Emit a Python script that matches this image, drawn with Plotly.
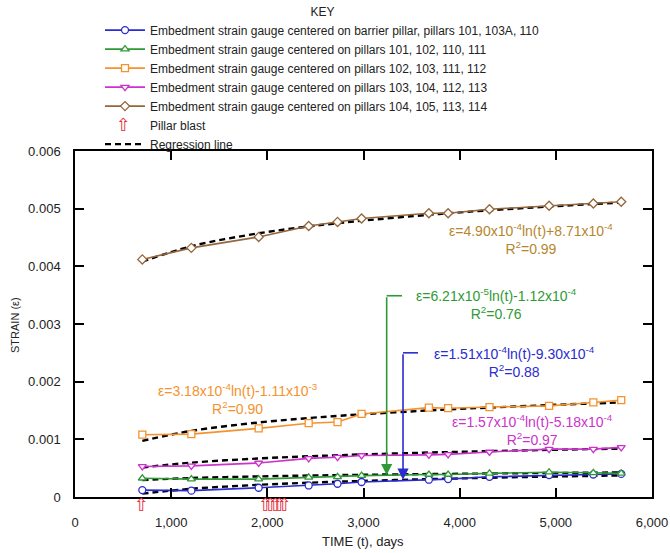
import plotly.graph_objects as go

# ---------------- data ----------------
t_days = [700, 1210, 1910, 2430, 2730, 2980, 3680, 3880, 4310, 4930, 5390, 5680]

strain_barrier = [0.00012, 0.00011, 0.00016, 0.00020, 0.00023, 0.00026, 0.00030, 0.00031, 0.00035, 0.00038, 0.00039, 0.00040]
strain_101_102 = [0.000325, 0.00031, 0.00031, 0.00034, 0.00035, 0.00037, 0.00039, 0.00039, 0.00041, 0.00043, 0.00042, 0.00041]
strain_102_103 = [0.00108, 0.00109, 0.00119, 0.00128, 0.00130, 0.00144, 0.00155, 0.00154, 0.00156, 0.00158, 0.00164, 0.00168]
strain_103_104 = [0.00053, 0.00054, 0.00059, 0.00067, 0.00069, 0.00072, 0.00073, 0.00074, 0.00078, 0.00083, 0.00083, 0.00086]
strain_104_105 = [0.00412, 0.00432, 0.00451, 0.00470, 0.00477, 0.00483, 0.00492, 0.00492, 0.00499, 0.00505, 0.00509, 0.00512]

# regression lines read at the same times
reg_barrier = [0.000059, 0.000142, 0.000211, 0.000247, 0.000265, 0.000278, 0.000310, 0.000318, 0.000334, 0.000354, 0.000367, 0.000375]
reg_101_102 = [0.000295, 0.000329, 0.000357, 0.000372, 0.000379, 0.000385, 0.000398, 0.000401, 0.000408, 0.000416, 0.000422, 0.000425]
reg_102_103 = [0.000973, 0.001147, 0.001292, 0.001369, 0.001406, 0.001434, 0.001501, 0.001518, 0.001551, 0.001594, 0.001622, 0.001639]
reg_103_104 = [0.000511, 0.000596, 0.000668, 0.000706, 0.000724, 0.000738, 0.000771, 0.000779, 0.000796, 0.000817, 0.000831, 0.000839]
reg_104_105 = [0.004081, 0.004349, 0.004573, 0.004691, 0.004748, 0.004791, 0.004894, 0.004920, 0.004972, 0.005037, 0.005081, 0.005107]

blast_days = [690, 1980, 2030, 2080, 2130, 2180]

series_names = [
    "Embedment strain gauge centered on barrier pillar, pillars 101, 103A, 110",
    "Embedment strain gauge centered on pillars 101, 102, 110, 111",
    "Embedment strain gauge centered on pillars 102, 103, 111, 112",
    "Embedment strain gauge centered on pillars 103, 104, 112, 113",
    "Embedment strain gauge centered on pillars 104, 105, 113, 114",
]

# ---------------- styles ----------------
FONT = "Liberation Sans, Arial, sans-serif"
c_blue = "#2b2bd0"
c_green = "#2f9a35"
c_orange = "#f5922e"
c_magenta = "#cc33cc"
c_brown = "#95663a"
c_brown_txt = "#b5862e"
c_red = "#e8303a"

W, H = 670, 553
L, R, T, B = 75, 18, 151, 56
PW, PH = W - L - R, H - T - B


def px_to_paper(px, py):
    return (px - L) / PW, (H - B - py) / PH


series = [
    (strain_barrier, c_blue, "circle"),
    (strain_101_102, c_green, "triangle-up"),
    (strain_102_103, c_orange, "square"),
    (strain_103_104, c_magenta, "triangle-down"),
    (strain_104_105, c_brown, "diamond"),
]
regs = [reg_barrier, reg_101_102, reg_102_103, reg_103_104, reg_104_105]

fig = go.Figure()

for r in regs:
    fig.add_trace(go.Scatter(
        x=t_days, y=r, mode="lines", line=dict(color="black", width=2.4, dash="6px,4px", shape="spline"),
        name="Regression line", showlegend=False, hoverinfo="skip"))

for (vals, col, sym), nm in zip(series, series_names):
    fig.add_trace(go.Scatter(
        x=t_days, y=vals, mode="lines+markers", name=nm,
        line=dict(color=col, width=1.6),
        marker=dict(symbol=sym, size=7, color="white", line=dict(color=col, width=1.3)),
    ))

# legend entry for pillar blast (symbol drawn by annotation)
fig.add_trace(go.Scatter(
    x=[None], y=[None], mode="markers", name="Pillar blast",
    marker=dict(size=1, color="rgba(0,0,0,0)"),
))
fig.add_trace(go.Scatter(
    x=[None], y=[None], mode="lines", name="Regression line",
    line=dict(color="black", width=2.4, dash="6px,4px"),
))

# pillar blast arrows below the time axis
for d in blast_days:
    fig.add_annotation(x=d, y=0, xref="x", yref="y", text="⇧", showarrow=False, yshift=-7,
                       font=dict(family="DejaVu Sans", size=18, color=c_red),
                       xanchor="center", yanchor="middle")

# ---------------- annotations ----------------
def eq(text_html, x, y, color):
    fig.add_annotation(x=x, y=y, xref="x", yref="y", text=text_html, showarrow=False,
                       font=dict(family=FONT, size=14, color=color), align="center")

eq("ε=4.90x10<sup>-4</sup>ln(t)+8.71x10<sup>-4</sup><br>R<sup>2</sup>=0.99", 4742, 0.00448, c_brown_txt)
eq("ε=6.21x10<sup>-5</sup>ln(t)-1.12x10<sup>-4</sup><br>R<sup>2</sup>=0.76", 4378, 0.00334, c_green)
eq("ε=1.51x10<sup>-4</sup>ln(t)-9.30x10<sup>-4</sup><br>R<sup>2</sup>=0.88", 4575, 0.00234, c_blue)
eq("ε=3.18x10<sup>-4</sup>ln(t)-1.11x10<sup>-3</sup><br>R<sup>2</sup>=0.90", 1695, 0.00170, c_orange)
eq("ε=1.57x10<sup>-4</sup>ln(t)-5.18x10<sup>-4</sup><br>R<sup>2</sup>=0.97", 4762, 0.00116, c_magenta)

# callout leaders
fig.add_shape(type="line", xref="x", yref="y", x0=3241, x1=3400, y0=0.00349, y1=0.00349,
              line=dict(color=c_green, width=1.6))
fig.add_annotation(x=3241, y=0.00038, ax=3241, ay=0.00349, xref="x", yref="y", axref="x", ayref="y",
                   text="", showarrow=True, arrowhead=2, arrowsize=1.4, arrowwidth=1.6, arrowcolor=c_green)
fig.add_shape(type="line", xref="x", yref="y", x0=3411, x1=3567, y0=0.00250, y1=0.00250,
              line=dict(color=c_blue, width=1.6))
fig.add_annotation(x=3411, y=0.00030, ax=3411, ay=0.00250, xref="x", yref="y", axref="x", ayref="y",
                   text="", showarrow=True, arrowhead=2, arrowsize=1.4, arrowwidth=1.6, arrowcolor=c_blue)

# axis titles
tx, ty = px_to_paper(363, 541)
fig.add_annotation(x=tx, y=ty, xref="paper", yref="paper", text="TIME (t), days", showarrow=False,
                   font=dict(family=FONT, size=13, color="#222"), xanchor="center", yanchor="middle")
sx, sy = px_to_paper(15, 325)
fig.add_annotation(x=sx, y=sy, xref="paper", yref="paper", text="STRAIN (ε)", showarrow=False, textangle=-90,
                   font=dict(family=FONT, size=11, color="#222"), xanchor="center", yanchor="middle")

# legend symbol for pillar blast
bx, by = px_to_paper(123, 124)
fig.add_annotation(x=bx, y=by, xref="paper", yref="paper", text="⇧", showarrow=False,
                   font=dict(family="DejaVu Sans", size=18, color=c_red), xanchor="center", yanchor="middle")

# ---------------- layout ----------------
axis_common = dict(showline=True, linecolor="black", linewidth=1.5, mirror="ticks", ticks="inside",
                   ticklen=9, tickwidth=1.5, tickcolor="black", showgrid=False, zeroline=False,
                   automargin=False, tickfont=dict(family=FONT, size=13, color="#222"))

fig.update_layout(
    width=W, height=H,
    margin=dict(l=L, r=R, t=T, b=B, autoexpand=False),
    paper_bgcolor="white", plot_bgcolor="white",
    font=dict(family=FONT, size=13, color="#222"),
    xaxis=dict(range=[0, 6000], dtick=1000, tickformat=",d", ticklabelstandoff=13, **axis_common),
    yaxis=dict(range=[0, 0.006], dtick=0.001, ticklabelstandoff=10, **axis_common),
    legend=dict(xref="container", yref="container", x=100 / W, y=1 + 5 / H, xanchor="left", yanchor="top",
                bgcolor="rgba(0,0,0,0)", itemwidth=40,
                font=dict(family=FONT, size=12, color="#222"), tracegroupgap=0,
                title=dict(text="KEY", side="top center", font=dict(family=FONT, size=12, color="#222"))),
    showlegend=True,
)

fig.write_html("out.html", config={"displayModeBar": False},
               post_script="document.body.style.margin='0px';")
